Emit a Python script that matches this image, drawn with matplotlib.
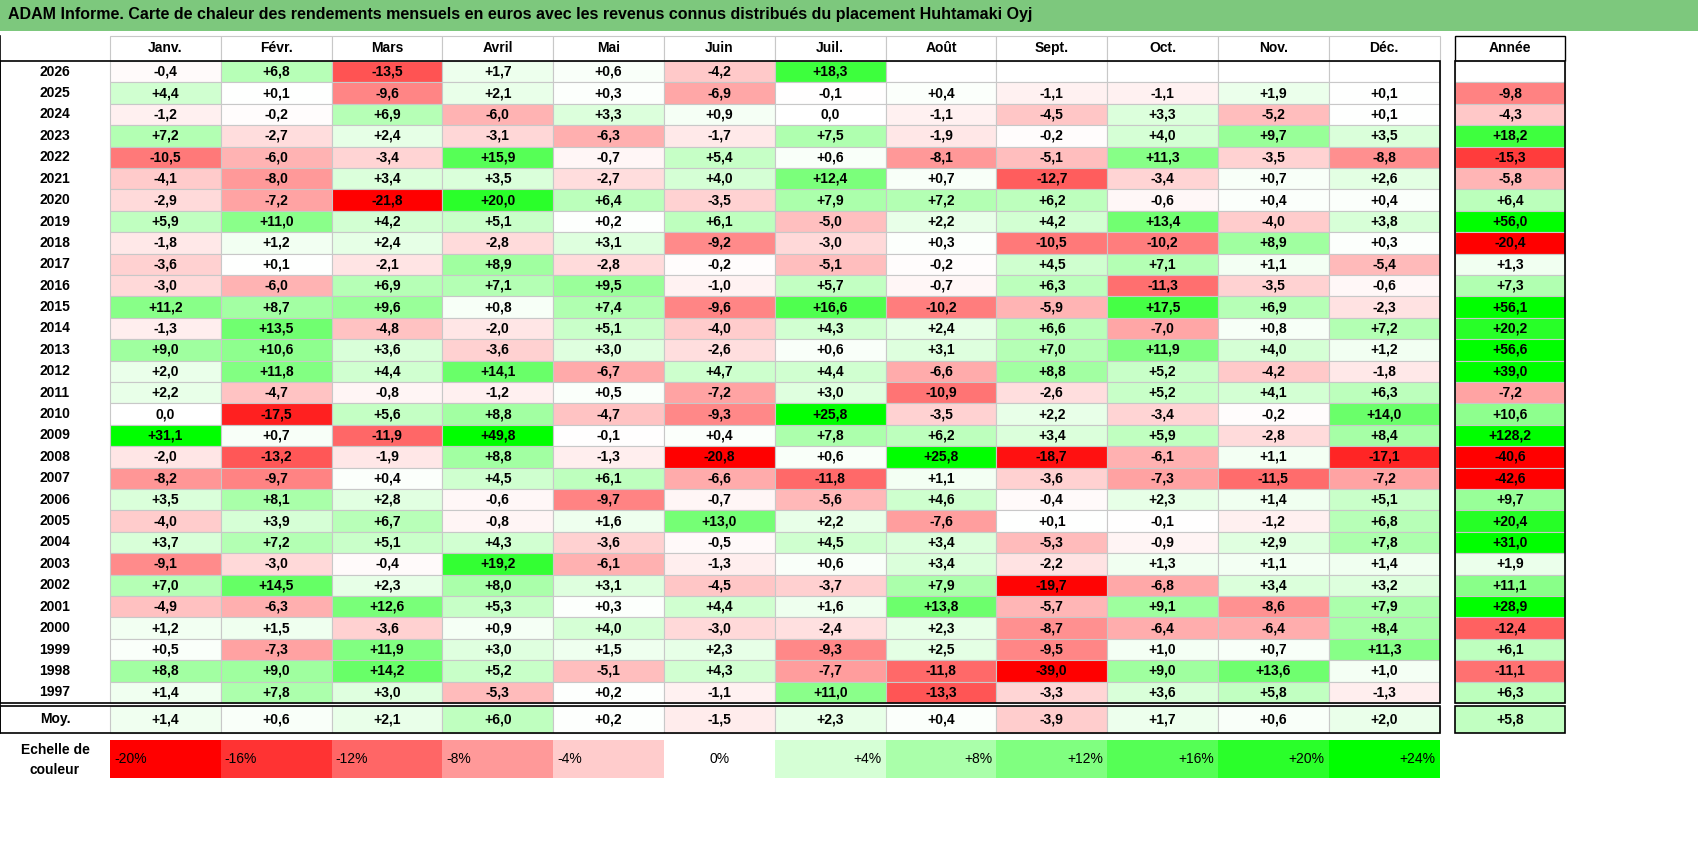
import matplotlib.pyplot as plt
from matplotlib.patches import Rectangle

plt.rcParams['font.family'] = ['Liberation Sans', 'DejaVu Sans']

title = "ADAM Informe. Carte de chaleur des rendements mensuels en euros avec les revenus connus distribués du placement Huhtamaki Oyj"
months = ["Janv.", "Févr.", "Mars", "Avril", "Mai", "Juin", "Juil.", "Août", "Sept.", "Oct.", "Nov.", "Déc."]
years = list(range(2026, 1996, -1))
monthly = [
    [-0.4, 6.8, -13.5, 1.7, 0.6, -4.2, 18.3, None, None, None, None, None],
    [4.4, 0.1, -9.6, 2.1, 0.3, -6.9, -0.1, 0.4, -1.1, -1.1, 1.9, 0.1],
    [-1.2, -0.2, 6.9, -6.0, 3.3, 0.9, 0.0, -1.1, -4.5, 3.3, -5.2, 0.1],
    [7.2, -2.7, 2.4, -3.1, -6.3, -1.7, 7.5, -1.9, -0.2, 4.0, 9.7, 3.5],
    [-10.5, -6.0, -3.4, 15.9, -0.7, 5.4, 0.6, -8.1, -5.1, 11.3, -3.5, -8.8],
    [-4.1, -8.0, 3.4, 3.5, -2.7, 4.0, 12.4, 0.7, -12.7, -3.4, 0.7, 2.6],
    [-2.9, -7.2, -21.8, 20.0, 6.4, -3.5, 7.9, 7.2, 6.2, -0.6, 0.4, 0.4],
    [5.9, 11.0, 4.2, 5.1, 0.2, 6.1, -5.0, 2.2, 4.2, 13.4, -4.0, 3.8],
    [-1.8, 1.2, 2.4, -2.8, 3.1, -9.2, -3.0, 0.3, -10.5, -10.2, 8.9, 0.3],
    [-3.6, 0.1, -2.1, 8.9, -2.8, -0.2, -5.1, -0.2, 4.5, 7.1, 1.1, -5.4],
    [-3.0, -6.0, 6.9, 7.1, 9.5, -1.0, 5.7, -0.7, 6.3, -11.3, -3.5, -0.6],
    [11.2, 8.7, 9.6, 0.8, 7.4, -9.6, 16.6, -10.2, -5.9, 17.5, 6.9, -2.3],
    [-1.3, 13.5, -4.8, -2.0, 5.1, -4.0, 4.3, 2.4, 6.6, -7.0, 0.8, 7.2],
    [9.0, 10.6, 3.6, -3.6, 3.0, -2.6, 0.6, 3.1, 7.0, 11.9, 4.0, 1.2],
    [2.0, 11.8, 4.4, 14.1, -6.7, 4.7, 4.4, -6.6, 8.8, 5.2, -4.2, -1.8],
    [2.2, -4.7, -0.8, -1.2, 0.5, -7.2, 3.0, -10.9, -2.6, 5.2, 4.1, 6.3],
    [0.0, -17.5, 5.6, 8.8, -4.7, -9.3, 25.8, -3.5, 2.2, -3.4, -0.2, 14.0],
    [31.1, 0.7, -11.9, 49.8, -0.1, 0.4, 7.8, 6.2, 3.4, 5.9, -2.8, 8.4],
    [-2.0, -13.2, -1.9, 8.8, -1.3, -20.8, 0.6, 25.8, -18.7, -6.1, 1.1, -17.1],
    [-8.2, -9.7, 0.4, 4.5, 6.1, -6.6, -11.8, 1.1, -3.6, -7.3, -11.5, -7.2],
    [3.5, 8.1, 2.8, -0.6, -9.7, -0.7, -5.6, 4.6, -0.4, 2.3, 1.4, 5.1],
    [-4.0, 3.9, 6.7, -0.8, 1.6, 13.0, 2.2, -7.6, 0.1, -0.1, -1.2, 6.8],
    [3.7, 7.2, 5.1, 4.3, -3.6, -0.5, 4.5, 3.4, -5.3, -0.9, 2.9, 7.8],
    [-9.1, -3.0, -0.4, 19.2, -6.1, -1.3, 0.6, 3.4, -2.2, 1.3, 1.1, 1.4],
    [7.0, 14.5, 2.3, 8.0, 3.1, -4.5, -3.7, 7.9, -19.7, -6.8, 3.4, 3.2],
    [-4.9, -6.3, 12.6, 5.3, 0.3, 4.4, 1.6, 13.8, -5.7, 9.1, -8.6, 7.9],
    [1.2, 1.5, -3.6, 0.9, 4.0, -3.0, -2.4, 2.3, -8.7, -6.4, -6.4, 8.4],
    [0.5, -7.3, 11.9, 3.0, 1.5, 2.3, -9.3, 2.5, -9.5, 1.0, 0.7, 11.3],
    [8.8, 9.0, 14.2, 5.2, -5.1, 4.3, -7.7, -11.8, -39.0, 9.0, 13.6, 1.0],
    [1.4, 7.8, 3.0, -5.3, 0.2, -1.1, 11.0, -13.3, -3.3, 3.6, 5.8, -1.3],
]
annual = [None, -9.8, -4.3, 18.2, -15.3, -5.8, 6.4, 56.0, -20.4, 1.3, 7.3, 56.1, 20.2, 56.6, 39.0,
          -7.2, 10.6, 128.2, -40.6, -42.6, 9.7, 20.4, 31.0, 1.9, 11.1, 28.9, -12.4, 6.1, -11.1, 6.3]
avg_month = [1.4, 0.6, 2.1, 6.0, 0.2, -1.5, 2.3, 0.4, -3.9, 1.7, 0.6, 2.0]
avg_year = 5.8
scale_vals = [-20, -16, -12, -8, -4, 0, 4, 8, 12, 16, 20, 24]


def color(v):
    if v is None:
        return 'white'
    if v < 0:
        t = min(-v / 20, 1)
        return (1, 1 - t, 1 - t)
    t = min(v / 24, 1)
    return (1 - t, 1, 1 - t)


def fmt(v):
    return "0,0" if v == 0 else f"{v:+.1f}".replace('.', ',')


W, H = 1698, 848
fig = plt.figure(figsize=(W / 100, H / 100), dpi=100)
ax = fig.add_axes([0, 0, 1, 1])
ax.set_xlim(0, W)
ax.set_ylim(H, 0)
ax.axis('off')

grid = '#c8c8c8'
# title bar
ax.add_patch(Rectangle((0, 0), W, 31, fc='#7dc87d', ec='none'))
ax.text(8, 15, title, fontsize=11.5, fontweight='bold', va='center')

x0, cw = 110, 110.8
xa, aw = 1455, 110
y0, rh = 61, 21.4

# header
for j, m in enumerate(months):
    ax.add_patch(Rectangle((x0 + j * cw, 36), cw, 25, fc='white', ec=grid, lw=0.8))
    ax.text(x0 + (j + 0.5) * cw, 48, m, ha='center', va='center', fontsize=10, fontweight='bold')
ax.add_patch(Rectangle((xa, 36), aw, 25, fc='white', ec='black', lw=1))
ax.text(xa + aw / 2, 48, "Année", ha='center', va='center', fontsize=10, fontweight='bold')

# body
for i, y in enumerate(years):
    yy = y0 + i * rh
    ax.text(55, yy + rh / 2, str(y), ha='center', va='center', fontsize=10, fontweight='bold')
    for j, v in enumerate(monthly[i]):
        ax.add_patch(Rectangle((x0 + j * cw, yy), cw, rh, fc=color(v), ec=grid, lw=0.8))
        if v is not None:
            ax.text(x0 + (j + 0.5) * cw, yy + rh / 2, fmt(v), ha='center', va='center', fontsize=10, fontweight='bold')
    v = annual[i]
    ax.add_patch(Rectangle((xa, yy), aw, rh, fc=color(v), ec=grid, lw=0.8))
    if v is not None:
        ax.text(xa + aw / 2, yy + rh / 2, fmt(v), ha='center', va='center', fontsize=10, fontweight='bold')

yb = y0 + len(years) * rh
ax.add_patch(Rectangle((0, y0), x0 + 12 * cw, yb - y0, fc='none', ec='black', lw=1.2))
ax.add_patch(Rectangle((xa, y0), aw, yb - y0, fc='none', ec='black', lw=1.2))

# average row
ym = yb + 3
for j, v in enumerate(avg_month):
    ax.add_patch(Rectangle((x0 + j * cw, ym), cw, 27, fc=color(v), ec=grid, lw=0.8))
    ax.text(x0 + (j + 0.5) * cw, ym + 13.5, fmt(v), ha='center', va='center', fontsize=10, fontweight='bold')
ax.add_patch(Rectangle((0, ym), x0 + 12 * cw, 27, fc='none', ec='black', lw=1.2))
ax.text(55, ym + 13.5, "Moy.", ha='center', va='center', fontsize=10, fontweight='bold')
ax.add_patch(Rectangle((xa, ym), aw, 27, fc=color(avg_year), ec='black', lw=1.2))
ax.text(xa + aw / 2, ym + 13.5, fmt(avg_year), ha='center', va='center', fontsize=10, fontweight='bold')
ax.plot([0, 0], [36, ym + 27], color='black', lw=1.2)
ax.plot([x0 + 12 * cw + 0, x0 + 12 * cw], [0, H], color='white', lw=0)

# colour scale
ys = 740
ax.text(55, ys + 20, "Echelle de\ncouleur", ha='center', va='center', fontsize=10, fontweight='bold', linespacing=1.6)
for j, v in enumerate(scale_vals):
    cx = x0 + j * cw
    ax.add_patch(Rectangle((cx, ys), cw, 38, fc=color(v), ec='none'))
    lab = f"{v:+d}%" if v > 0 else f"{v}%"
    if v < 0:
        ax.text(cx + 4, ys + 19, lab, ha='left', va='center', fontsize=10)
    elif v == 0:
        ax.text(cx + cw / 2, ys + 19, lab, ha='center', va='center', fontsize=10)
    else:
        ax.text(cx + cw - 4, ys + 19, lab, ha='right', va='center', fontsize=10)

fig.savefig('out.png', dpi=100)
